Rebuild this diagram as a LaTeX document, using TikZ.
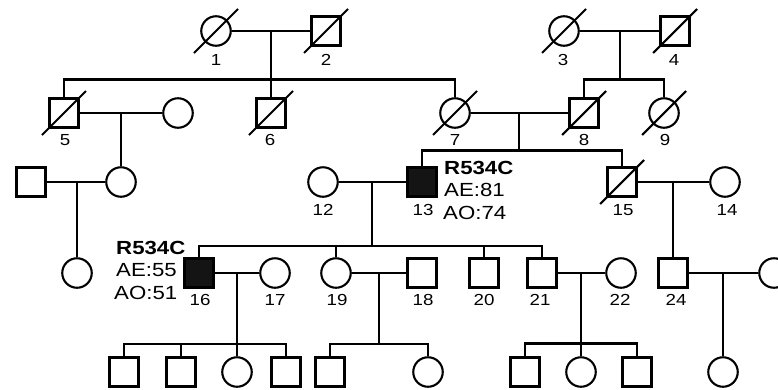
\documentclass[tikz,border=0pt]{standalone}
\usepackage{fontspec}
\setmainfont{Liberation Sans}
\newcommand{\wtxt}[1]{\scalebox{1.17}[1]{#1}}
\tikzset{
  ln/.style={line width=2.1pt},
  male/.style={draw, rectangle, minimum size=29pt, inner sep=0pt, line width=2.1pt},
  female/.style={draw, circle, minimum size=29.5pt, inner sep=0pt, line width=2.1pt},
  aff/.style={fill=black!92},
  num/.style={inner sep=0pt, font=\fontsize{16}{18}\selectfont},
  info/.style={inner sep=0pt, anchor=west, font=\fontsize{19}{22}\selectfont},
}
\begin{document}
\begin{tikzpicture}[x=1pt,y=-1pt]
\useasboundingbox (0,0) rectangle (778,389);
\clip (0,0) rectangle (778,389);
% Generation I
\node[female] (p1) at (216,31) {};
\node[male]   (p2) at (326,31) {};
\node[female] (p3) at (564,31) {};
\node[male]   (p4) at (675,31) {};
% Generation II
\node[male]   (p5) at (64,113) {};
\node[female] (a)  at (178,113) {};
\node[male]   (p6) at (271,113) {};
\node[female] (p7) at (455,113) {};
\node[male]   (p8) at (584,113) {};
\node[female] (p9) at (664,113) {};
% Generation III
\node[male]   (b)   at (31,182) {};
\node[female] (c)   at (121,182) {};
\node[female] (p12) at (323,182) {};
\node[male,aff] (p13) at (422,182) {};
\node[male]   (p15) at (622,182) {};
\node[female] (p14) at (725,182) {};
% Generation III-2
\node[female] (d)   at (77,273) {};
\node[male,aff] (p16) at (199,273) {};
\node[female] (p17) at (275,273) {};
\node[female] (p19) at (336,273) {};
\node[male]   (p18) at (422,273) {};
\node[male]   (p20) at (484,273) {};
\node[male]   (p21) at (542,273) {};
\node[female] (p22) at (621,273) {};
\node[male]   (p24) at (673,273) {};
\node[female] (q)   at (774,273) {};
% Generation IV
\node[male]   (k1) at (124,372) {};
\node[male]   (k2) at (181,372) {};
\node[female] (k3) at (237,372) {};
\node[male]   (k4) at (286,372) {};
\node[male]   (m1) at (330,372) {};
\node[female] (m2) at (428,372) {};
\node[male]   (n1) at (525,372) {};
\node[female] (n2) at (581,372) {};
\node[male]   (n3) at (637,372) {};
\node[female] (r)  at (723,372) {};

% deceased slashes
\foreach \n in {p1,p2,p3,p4,p5,p6,p7,p8,p9,p15}
  \draw[ln] (\n) ++(-22,22) -- ++(44,-44);

% coordinates
\coordinate (m12) at (271,31);
\coordinate (s12) at (271,79.5);
\coordinate (m34) at (620,31);
\coordinate (s34) at (620,79.5);
\coordinate (m5a) at (121,113);
\coordinate (m78) at (519,113);
\coordinate (s78) at (519,150.5);
\coordinate (mbc) at (77,182);
\coordinate (m1213) at (372,182);
\coordinate (s1213) at (372,246);
\coordinate (m1514) at (673,182);
\coordinate (m1617) at (237,273);
\coordinate (s1617) at (237,344);
\coordinate (m1918) at (379,273);
\coordinate (s1918) at (379,344);
\coordinate (m2122) at (581,273);
\coordinate (s2122) at (581,343.5);
\coordinate (m24q) at (723,273);

% connectors
\draw[ln] (p1) -- (p2);
\draw[ln] (m12) -- (s12);
\draw[ln] (p5) |- (s12) -| (p7);
\draw[ln] (s12) -- (p6);
\draw[ln] (p3) -- (p4);
\draw[ln] (m34) -- (s34);
\draw[ln] (p8) |- (s34) -| (p9);
\draw[ln] (p5) -- (a);
\draw[ln] (m5a) -- (c);
\draw[ln] (p7) -- (p8);
\draw[ln] (m78) -- (s78);
\draw[ln] (p13) |- (s78) -| (p15);
\draw[ln] (b) -- (c);
\draw[ln] (mbc) -- (d);
\draw[ln] (p12) -- (p13);
\draw[ln] (m1213) -- (s1213);
\draw[ln] (p16) |- (s1213) -| (p21);
\draw[ln] (p19.north) -- (p19.north |- s1213);
\draw[ln] (p20.north) -- (p20.north |- s1213);
\draw[ln] (p15) -- (p14);
\draw[ln] (m1514) -- (p24);
\draw[ln] (p16) -- (p17);
\draw[ln] (m1617) -- (s1617);
\draw[ln] (k1) |- (s1617) -| (k4);
\draw[ln] (k2.north) -- (k2.north |- s1617);
\draw[ln] (k3.north) -- (k3.north |- s1617);
\draw[ln] (p19) -- (p18);
\draw[ln] (m1918) -- (s1918);
\draw[ln] (m1) |- (s1918) -| (m2);
\draw[ln] (p21) -- (p22);
\draw[ln] (m2122) -- (s2122);
\draw[ln] (n1) |- (s2122) -| (n3);
\draw[ln] (n2.north) -- (n2.north |- s2122);
\draw[ln] (p24) -- (q);
\draw[ln] (m24q) -- (r);

% number labels
\node[num] (l1) at (216,60) {\wtxt{1}};
\node[num] (l2) at (326,60) {\wtxt{2}};
\node[num] (l3) at (563,60) {\wtxt{3}};
\node[num] (l4) at (674,60) {\wtxt{4}};
\node[num] (l5) at (65,140) {\wtxt{5}};
\node[num] (l6) at (270,140) {\wtxt{6}};
\node[num] (l7) at (455,140) {\wtxt{7}};
\node[num] (l8) at (584,140) {\wtxt{8}};
\node[num] (l9) at (665,140) {\wtxt{9}};
\node[num] (l12) at (323,210) {\wtxt{12}};
\node[num] (l13) at (423,210) {\wtxt{13}};
\node[num] (l15) at (623,210) {\wtxt{15}};
\node[num] (l14) at (727,210) {\wtxt{14}};
\node[num] (l16) at (200,300) {\wtxt{16}};
\node[num] (l17) at (275,300) {\wtxt{17}};
\node[num] (l19) at (337,300) {\wtxt{19}};
\node[num] (l18) at (423,300) {\wtxt{18}};
\node[num] (l20) at (484,300) {\wtxt{20}};
\node[num] (l21) at (540,300) {\wtxt{21}};
\node[num] (l22) at (620,300) {\wtxt{22}};
\node[num] (l24) at (676,300) {\wtxt{24}};

% mutation info
\node[info] (i13a) at (444,167.5) {\wtxt{\textbf{R534C}}};
\node[info] (i13b) at (444,190) {\wtxt{AE:81}};
\node[info] (i13c) at (443,213) {\wtxt{AO:74}};
\node[info] (i16a) at (116,248) {\wtxt{\textbf{R534C}}};
\node[info] (i16b) at (116,270) {\wtxt{AE:55}};
\node[info] (i16c) at (114,293) {\wtxt{AO:51}};
\end{tikzpicture}
\end{document}
